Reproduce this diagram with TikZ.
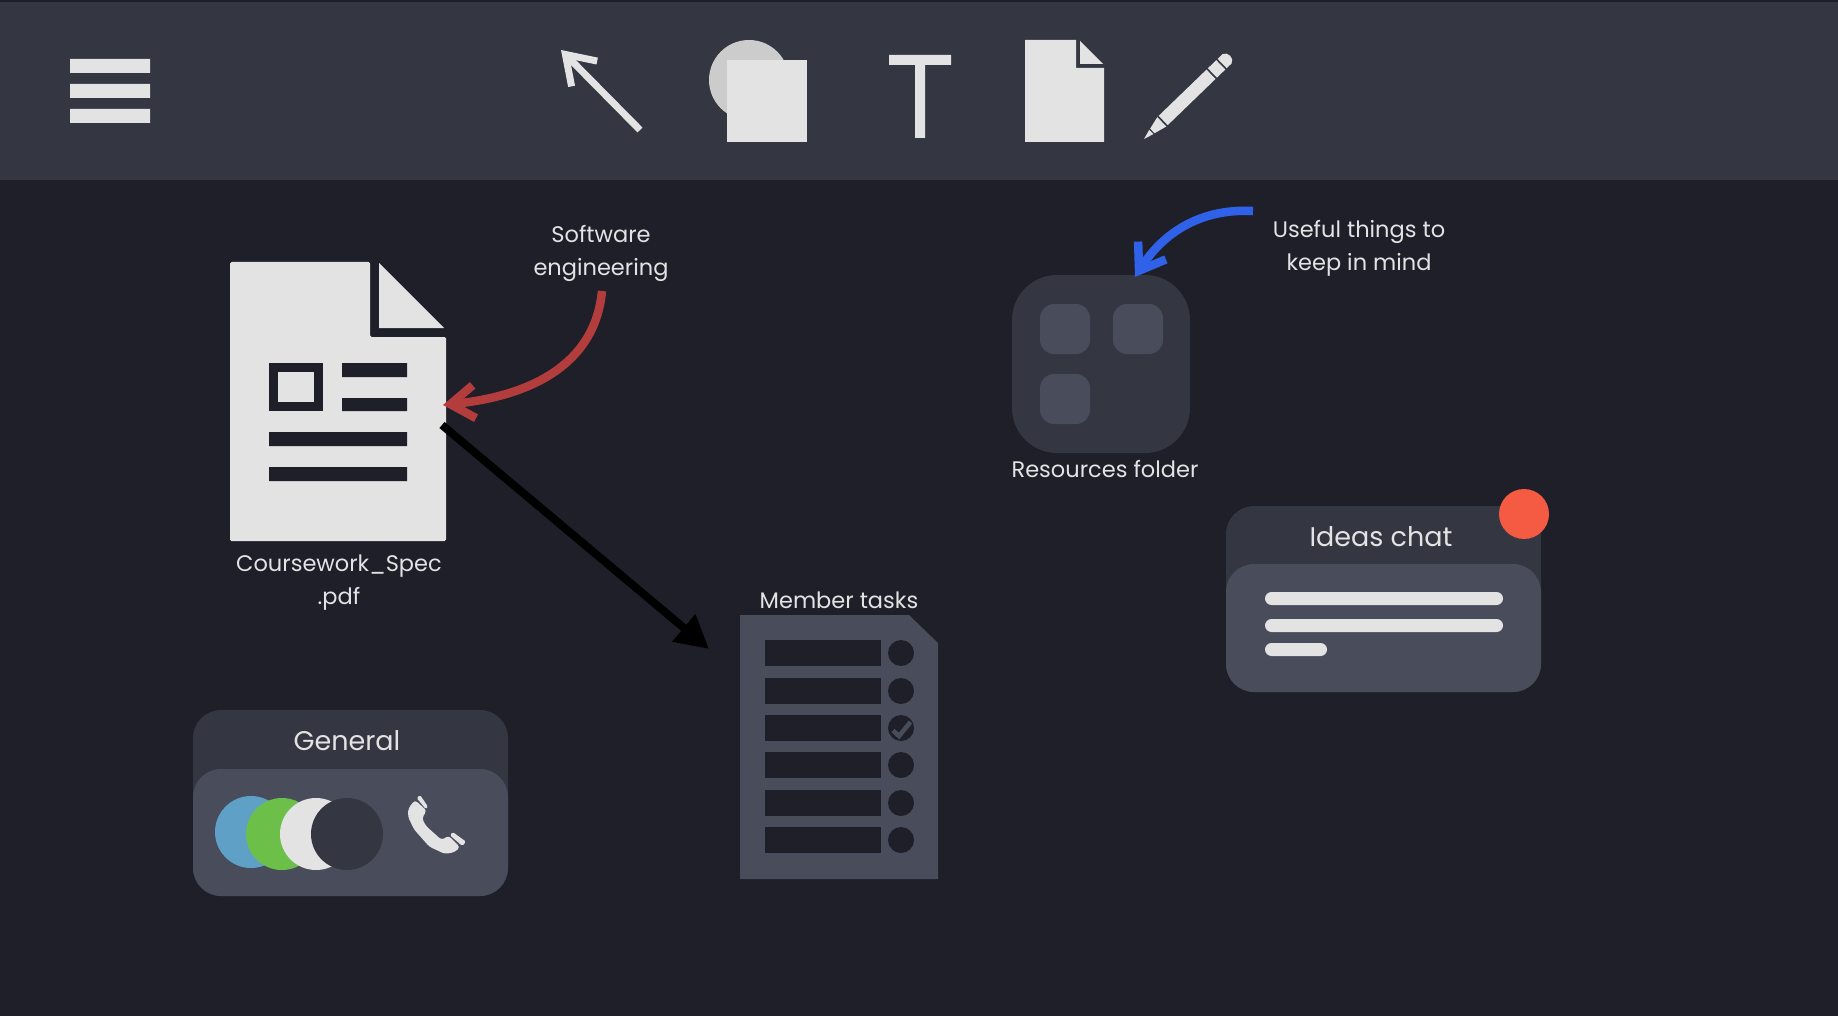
\documentclass[tikz,border=0pt]{standalone}
\usepackage{fontspec}
\setmainfont{Poppins}
\usetikzlibrary{arrows.meta}
\definecolor{bgdark}{HTML}{1E1F28}
\definecolor{barcol}{HTML}{343642}
\definecolor{panel}{HTML}{494C5A}
\definecolor{lightc}{HTML}{E3E3E3}
\definecolor{greyc}{HTML}{CCCCCC}
\definecolor{redarrow}{HTML}{B33C3C}
\definecolor{bluearrow}{HTML}{2F62E8}
\definecolor{badge}{HTML}{F55A42}
\tikzset{
  lbl/.style={text=lightc,font=\fontsize{22.5}{33}\selectfont,align=center,inner sep=0pt},
  ttl/.style={text=lightc,font=\fontsize{27}{33}\selectfont,align=center,inner sep=0pt},
  light/.style={fill=lightc,draw=none},
  darkc/.style={fill=bgdark,draw=none},
  barc/.style={fill=barcol,draw=none},
  pan/.style={fill=panel,draw=none},
  curvearrow/.style={line width=8.5pt,-{Straight Barb[length=24pt,width=33pt,line width=8.5pt]}},
}
\begin{document}
\begin{tikzpicture}[x=1pt,y=-1pt]
\useasboundingbox (0,0) rectangle (1838,1016);
\fill[bgdark] (0,0) rectangle (1838,1016);
\fill[barcol] (0,2) rectangle (1838,180);
% hamburger
\fill[light] (70,59) rectangle (150,73) (70,84) rectangle (150,98) (70,109) rectangle (150,123);
% toolbar arrow
\coordinate (tba) at (640,130);
\coordinate (tbb) at (561,50);
\draw[lightc,line width=7pt,-{Straight Barb[length=27pt,width=36pt,line width=7pt]}] (tba) -- (tbb);
% shapes tool
\fill[greyc] (749,80) circle (40);
\fill[light] (727,60) rectangle (807,142);
% T tool
\fill[light] (889,55) rectangle (951,65) (915,65) rectangle (925,138);
% page tool
\fill[light] (1025,40) -- (1076,40) -- (1076,68) -- (1104,68) -- (1104,142) -- (1025,142) -- cycle;
\fill[light] (1080,41) -- (1103,64) -- (1080,64) -- cycle;
% pencil
\begin{scope}[shift={(1144,139)},rotate=44,xscale=0.97]
  \fill[light] (0,0) -- (10.5,-3) -- (10.5,3) -- cycle;
  \fill[light] (12,-3.2) -- (25.5,-6.5) -- (25.5,6.5) -- (12,3.2) -- cycle;
  \fill[light] (27.5,-6.5) rectangle (96,6.5);
  \fill[light] (98,-6.5) rectangle (110,6.5);
  \fill[light] (112,-6.5) -- (119,-6.5) .. controls (125,-5) and (125,5) .. (119,6.5) -- (112,6.5) -- cycle;
\end{scope}
% coursework document
\fill[light,rounded corners=1.5pt] (230,262) -- (370,262) -- (370,337) -- (446,337) -- (446,541) -- (230,541) -- cycle;
\fill[light] (379,263) -- (444,328) -- (379,328) -- cycle;
\fill[darkc] (269,363) rectangle (323,411);
\fill[light] (278,372) rectangle (314,402);
\fill[darkc] (342,363) rectangle (407,377) (342,398) rectangle (407,411) (269,432) rectangle (407,446) (269,467) rectangle (407,481);
\node[lbl] (speclabel) at (339,583) {Coursework\_Spec\\.pdf};
% labels with curved arrows
\node[lbl] (swe) at (601,253) {Software\\engineering};
\coordinate (redstart) at (602,291);
\coordinate (redtip) at (443,405);
\draw[redarrow,curvearrow] (redstart) .. controls (595,365) and (530,396) .. (redtip);
\coordinate (blackstart) at (442,425);
\coordinate (blacktip) at (709,649);
\draw[black,line width=8pt,-{Triangle[length=33pt,width=34pt]}] (blackstart) -- (blacktip);
% resources
\fill[barcol,rounded corners=45pt] (1012,275) rectangle (1190,453);
\fill[pan,rounded corners=14pt] (1040,304) rectangle (1090,354);
\fill[pan,rounded corners=14pt] (1113,304) rectangle (1163,354);
\fill[pan,rounded corners=14pt] (1040,374) rectangle (1090,424);
\node[lbl] (reslabel) at (1105,469) {Resources folder};
\node[lbl] (useful) at (1359,248) {Useful things to\\keep in mind};
\coordinate (bluestart) at (1253,211);
\coordinate (bluetip) at (1135,277);
\draw[bluearrow,curvearrow] (bluestart) .. controls (1195,208) and (1160,238) .. (bluetip);
% ideas chat
\fill[barcol,rounded corners=28pt] (1226,506) rectangle (1541,692);
\fill[pan,rounded corners=28pt] (1226,564) rectangle (1541,692);
\node[ttl] (ideas) at (1381,537) {Ideas chat};
\fill[light,rounded corners=6.5pt] (1265,592) rectangle (1503,605);
\fill[light,rounded corners=6.5pt] (1265,619) rectangle (1503,632);
\fill[light,rounded corners=6.5pt] (1265,643) rectangle (1327,656);
\fill[badge] (1524,514) circle (25);
% general
\fill[barcol,rounded corners=28pt] (193,710) rectangle (508,896);
\fill[pan,rounded corners=28pt] (193,769) rectangle (508,896);
\node[ttl] (general) at (347,741) {General};
\fill[fill={rgb,255:red,94;green,160;blue,198}] (251,832) circle (36);
\fill[fill={rgb,255:red,108;green,192;blue,74}] (282,834) circle (36);
\fill[lightc] (316,834) circle (36);
\fill[barcol] (347,834) circle (36);
% phone
\begin{scope}[shift={(400,790)},scale=0.3333]
  \fill[light,rounded corners=3pt] (45,30) -- (80,62) -- (66,85) -- (78,108) -- (125,150) -- (146,137) -- (180,171) -- (165,186) -- (135,192) -- (88,170) -- (42,118) -- (24,80) -- (25,55) -- cycle;
  \fill[light,rounded corners=1.5pt] (50,24) -- (60,15) -- (84,50) -- (78,58) -- cycle;
  \fill[light,rounded corners=1.5pt] (150,136) -- (158,126) -- (198,155) -- (187,168) -- cycle;
\end{scope}
% tasks
\fill[pan] (740,615) -- (909,615) -- (938,643) -- (938,879) -- (740,879) -- cycle;
\node[lbl] (tasks) at (839,600) {Member tasks};
\foreach \ya/\yb in {640/666,678/704,715/741,752/778,790/816,827/853}{
  \fill[darkc] (765,\ya) rectangle (881,\yb);
  \fill[darkc] (901,{(\ya+\yb)/2}) circle (13);
}
\draw[panel,line width=4.5pt] (893,730.5) -- (899,736) -- (910.5,722);
\end{tikzpicture}
\end{document}
